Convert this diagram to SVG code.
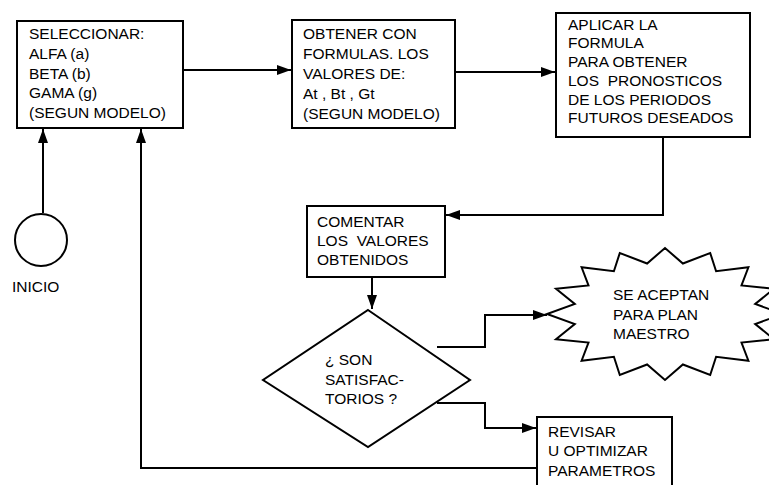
<svg xmlns="http://www.w3.org/2000/svg" width="769" height="485" viewBox="0 0 769 485">
<style>
.box{fill:#fff;stroke:#000;stroke-width:2}
.t{font-family:"Liberation Sans",Arial,sans-serif;font-size:15.5px;fill:#000}
.c{fill:none;stroke:#000;stroke-width:2}
</style>
<defs>
<marker id="ah" markerWidth="14" markerHeight="10" refX="14" refY="5" orient="auto" markerUnits="userSpaceOnUse">
<path d="M0,0 L14,5 L0,10 Z" fill="#000"/>
</marker>
</defs>
<rect width="769" height="485" fill="#fff"/>
<g id="connectors">
<line class="c" x1="43" y1="213" x2="43" y2="129" marker-end="url(#ah)"/>
<line class="c" x1="183" y1="70" x2="291" y2="70" marker-end="url(#ah)"/>
<line class="c" x1="455" y1="72" x2="555" y2="72" marker-end="url(#ah)"/>
<polyline class="c" points="663,137 663,215 446,215" marker-end="url(#ah)"/>
<line class="c" x1="372" y1="277" x2="372" y2="309" marker-end="url(#ah)"/>
<polyline class="c" points="437,347 485,347 485,315 547,315" marker-end="url(#ah)"/>
<polyline class="c" points="437,403 485,403 485,428 536,428" marker-end="url(#ah)"/>
<polyline class="c" points="537,468 141,468 141,129" marker-end="url(#ah)"/>
</g>
<g id="inicio">
<circle class="box" cx="41" cy="240" r="26"/>
<text class="t" x="12" y="292">INICIO</text>
</g>
<g id="seleccionar">
<rect class="box" x="17" y="21" width="166" height="107"/>
<text class="t" x="29" y="39">SELECCIONAR:</text>
<text class="t" x="29" y="59">ALFA (a)</text>
<text class="t" x="29" y="78.5">BETA (b)</text>
<text class="t" x="29" y="98">GAMA (g)</text>
<text class="t" x="29" y="118">(SEGUN MODELO)</text>
</g>
<g id="obtener">
<rect class="box" x="292" y="20" width="163" height="108"/>
<text class="t" x="303" y="39">OBTENER CON</text>
<text class="t" x="303" y="59">FORMULAS. LOS</text>
<text class="t" x="303" y="79">VALORES DE:</text>
<text class="t" x="303" y="99">At , Bt , Gt</text>
<text class="t" x="303" y="119">(SEGUN MODELO)</text>
</g>
<g id="aplicar">
<rect class="box" x="556" y="13" width="194" height="124"/>
<text class="t" x="568" y="29.5">APLICAR LA</text>
<text class="t" x="568" y="48">FORMULA</text>
<text class="t" x="568" y="67">PARA OBTENER</text>
<text class="t" x="568" y="86" xml:space="preserve">LOS  PRONOSTICOS</text>
<text class="t" x="568" y="104.5">DE LOS PERIODOS</text>
<text class="t" x="568" y="123">FUTUROS DESEADOS</text>
</g>
<g id="comentar">
<rect class="box" x="307" y="206" width="138" height="71"/>
<text class="t" x="317" y="227">COMENTAR</text>
<text class="t" x="317" y="246" xml:space="preserve">LOS  VALORES</text>
<text class="t" x="317" y="265">OBTENIDOS</text>
</g>
<g id="decision">
<polygon class="box" points="368,310 470,380 368,447 263,380"/>
<text class="t" x="325" y="365">¿ SON</text>
<text class="t" x="325" y="385">SATISFAC-</text>
<text class="t" x="325" y="404">TORIOS ?</text>
</g>
<g id="aceptan">
<polygon class="box" points="783,314 755.2,304 774,288.7 741.5,285.4 748.4,267.3 716.1,271.2 710.2,253 682.9,263.5 665,248 647.1,263.5 619.8,253 613.9,271.2 581.6,267.3 588.5,285.4 556,288.7 574.8,304 547,314 574.8,324 556,339.3 588.5,342.6 581.6,360.7 613.9,356.8 619.8,375 647.1,364.5 665,380 682.9,364.5 710.2,375 716.1,356.8 748.4,360.7 741.5,342.6 774,339.3 755.2,324"/>
<text class="t" x="613" y="300">SE ACEPTAN</text>
<text class="t" x="613" y="320">PARA PLAN</text>
<text class="t" x="613" y="339">MAESTRO</text>
</g>
<g id="revisar">
<rect class="box" x="537" y="417" width="135" height="70"/>
<text class="t" x="548" y="437">REVISAR</text>
<text class="t" x="548" y="456">U OPTIMIZAR</text>
<text class="t" x="548" y="476">PARAMETROS</text>
</g>
</svg>
